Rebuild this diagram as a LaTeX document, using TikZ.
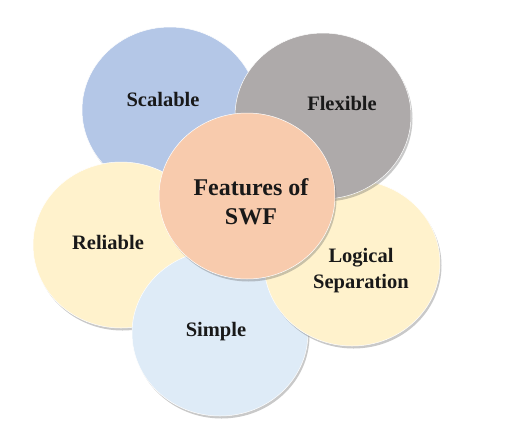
\documentclass[tikz,border=0pt]{standalone}
\usepackage{fontspec}
\setmainfont{Liberation Serif}
\usetikzlibrary{shapes.geometric,shadows}
\definecolor{cblue}{HTML}{B4C7E7}
\definecolor{cgray}{HTML}{AEAAAA}
\definecolor{cpeach}{HTML}{F8CBAD}
\definecolor{cyellow}{HTML}{FFF2CC}
\definecolor{clight}{HTML}{DEEBF7}
\tikzset{
  blob/.style={ellipse, draw=white, line width=0.5pt, minimum width=176pt, minimum height=166pt, inner sep=0pt,
    drop shadow={shadow xshift=1.5pt, shadow yshift=-2.5pt, opacity=0.35, fill=black!60}},
  lbl/.style={font=\bfseries\fontsize{20.5}{26}\selectfont, align=center, text=black!90, inner sep=0pt},
  biglbl/.style={font=\bfseries\fontsize{24}{29}\selectfont, align=center, text=black!90, inner sep=0pt}
}
\begin{document}
\begin{tikzpicture}[x=1pt,y=-1pt]
\useasboundingbox (0,0) rectangle (514,426);
\fill[white] (0,0) rectangle (514,426);
\node[blob, fill=cblue] (scal) at (170,110) {};
\node[blob, fill=cyellow] (rel) at (121,245) {};
\node[blob, fill=clight] (simp) at (220,333) {};
\node[blob, fill=cyellow] (logi) at (352,263) {};
\node[blob, fill=cgray] (flex) at (323,116) {};
\node[blob, fill=cpeach] (feat) at (247,196) {};
\node[lbl] (tscal) at (163,99) {Scalable};
\node[lbl] (tflex) at (342,103) {Flexible};
\node[lbl] (trel) at (108,242) {Reliable};
\node[lbl] (tsimp) at (216,332) {Simple};
\node[lbl] (tlogi) at (361,271) {Logical\\Separation};
\node[biglbl] (tfeat) at (251,202) {Features of\\SWF};
\end{tikzpicture}
\end{document}
